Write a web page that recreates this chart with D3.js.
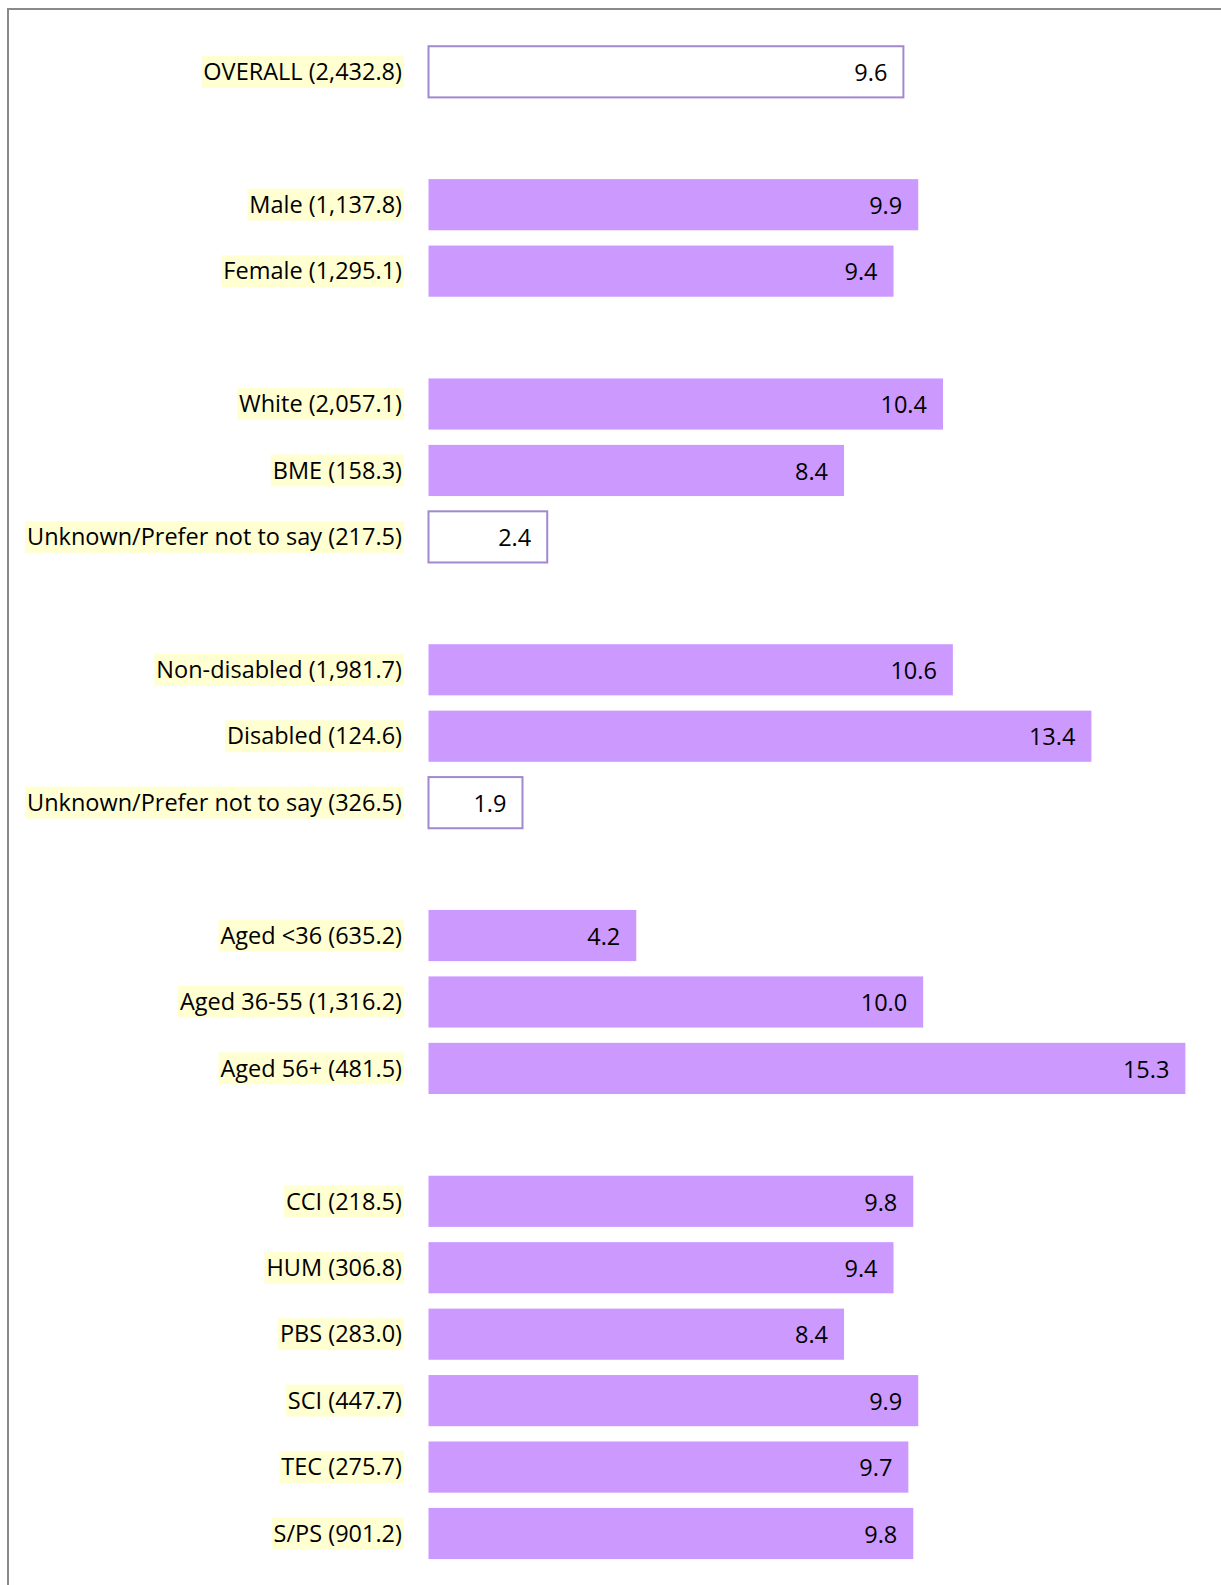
<!DOCTYPE html>
<html>
<head>
<meta charset="utf-8">
<script src="https://cdn.jsdelivr.net/npm/d3@7"></script>
<style>
  html, body { margin: 0; padding: 0; background: #ffffff; }
  svg { display: block; }
  text { font-family: "Open Sans", "Noto Sans", sans-serif; fill: #000; }
</style>
</head>
<body>
<svg id="chart" width="1221" height="1585"></svg>
<script>
// Row labels (headcount in brackets) and the bar value for each row
const categories = [
  "OVERALL (2,432.8)",
  "Male (1,137.8)", "Female (1,295.1)",
  "White (2,057.1)", "BME (158.3)", "Unknown/Prefer not to say (217.5)",
  "Non-disabled (1,981.7)", "Disabled (124.6)", "Unknown/Prefer not to say (326.5)",
  "Aged <36 (635.2)", "Aged 36-55 (1,316.2)", "Aged 56+ (481.5)",
  "CCI (218.5)", "HUM (306.8)", "PBS (283.0)", "SCI (447.7)", "TEC (275.7)", "S/PS (901.2)"
];
const values = [
  9.6,
  9.9, 9.4,
  10.4, 8.4, 2.4,
  10.6, 13.4, 1.9,
  4.2, 10.0, 15.3,
  9.8, 9.4, 8.4, 9.9, 9.7, 9.8
];
// Number of rows in each block (blocks are separated by an empty row)
const groupSizes = [1, 2, 3, 3, 3, 6];
// Rows drawn as open boxes rather than filled bars
const hollowRows = [
  "OVERALL (2,432.8)",
  "Unknown/Prefer not to say (217.5)",
  "Unknown/Prefer not to say (326.5)"
];

const svg = d3.select("#chart");

// outer frame
svg.append("rect")
  .attr("x", 8).attr("y", 9)
  .attr("width", 1300).attr("height", 1700)
  .attr("fill", "none")
  .attr("stroke", "#8a8a8a")
  .attr("stroke-width", 2);

// build slot list: rows plus a spacer between blocks
const slots = [];
let k = 0;
groupSizes.forEach((n, gi) => {
  if (gi > 0) slots.push("__gap" + gi);
  for (let i = 0; i < n; i++) slots.push(categories[k++]);
});

const rows = categories.map((c, i) => ({ label: c, value: values[i], hollow: hollowRows.includes(c) }));

const y = d3.scaleBand()
  .domain(slots)
  .range([38.6, 38.6 + slots.length * 66.44])
  .paddingInner(0.23)
  .paddingOuter(0.115);

const x = d3.scaleLinear()
  .domain([0, 16])
  .range([428.5, 1220]);

const fontSize = 23.5;

const g = svg.append("g");

// bars
g.selectAll("rect.bar")
  .data(rows)
  .join("rect")
  .attr("class", "bar")
  .attr("x", x(0))
  .attr("y", d => y(d.label))
  .attr("width", d => x(d.value) - x(0))
  .attr("height", y.bandwidth())
  .attr("fill", d => d.hollow ? "#ffffff" : "#cc99ff")
  .attr("stroke", d => d.hollow ? "#a288cf" : "none")
  .attr("stroke-width", d => d.hollow ? 2 : 0);

// value labels inside bar ends
g.selectAll("text.val")
  .data(rows)
  .join("text")
  .attr("class", "val")
  .attr("x", d => x(d.value) - 16)
  .attr("y", d => y(d.label) + y.bandwidth() / 2 + 1)
  .attr("dy", "0.35em")
  .attr("text-anchor", "end")
  .style("font-size", fontSize + "px")
  .text(d => d3.format(".1f")(d.value));

// category labels with highlight behind
const labelX = 402;
const labelG = g.selectAll("g.lab")
  .data(rows)
  .join("g")
  .attr("class", "lab");

const labelText = labelG.append("text")
  .attr("x", labelX)
  .attr("y", d => y(d.label) + y.bandwidth() / 2)
  .attr("dy", "0.35em")
  .attr("text-anchor", "end")
  .style("font-size", fontSize + "px")
  .text(d => d.label);

labelText.each(function() {
  const bb = this.getBBox();
  const cy = +this.getAttribute("y");
  d3.select(this.parentNode).insert("rect", "text")
    .attr("x", bb.x - 2)
    .attr("y", cy - 16)
    .attr("width", bb.width + 4)
    .attr("height", 32)
    .attr("fill", "#ffffd2");
});
</script>
</body>
</html>
